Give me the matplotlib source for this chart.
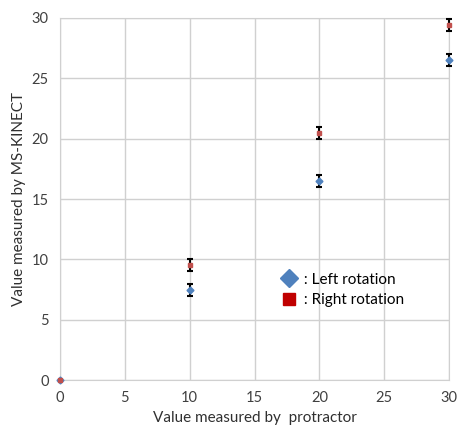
import matplotlib
matplotlib.use('Agg')
import matplotlib.pyplot as plt
from matplotlib.lines import Line2D

plt.rcParams['font.family'] = ['Lato', 'DejaVu Sans']

protractor = [0, 10, 20, 30]
left_rot = [0, 7.5, 16.5, 26.5]
left_err = [0, 0.5, 0.5, 0.5]
right_rot = [0, 9.5, 20.5, 29.4]
right_err = [0, 0.5, 0.5, 0.5]

fig = plt.figure(figsize=(4.57, 4.36), dpi=100)
ax = fig.add_axes([0.131, 0.128, 0.852, 0.831])

for ys, errs, mk, col in [(left_rot, left_err, 'D', '#4f81bd'),
                          (right_rot, right_err, 's', '#c0504d')]:
    # error bars only where there is an error
    xe = [x for x, e in zip(protractor, errs) if e > 0]
    ye = [y for y, e in zip(ys, errs) if e > 0]
    ee = [e for e in errs if e > 0]
    _, caps, bars = ax.errorbar(xe, ye, yerr=ee, fmt='none', ecolor='black',
                                elinewidth=1.5, capsize=2.3, capthick=1.5, zorder=3)
    for a in list(caps) + list(bars):
        a.set_clip_on(False)
    ax.plot(protractor, ys, mk, color=col, markersize=3.5, zorder=4, clip_on=False)

ax.set_xlim(0, 30)
ax.set_ylim(0, 30)
ax.set_xticks(range(0, 31, 5))
ax.set_yticks(range(0, 31, 5))
ax.grid(True, color='#d0d0d0', linewidth=1)
ax.set_axisbelow(True)
for s in ax.spines.values():
    s.set_color('#d0d0d0')
ax.tick_params(length=0, labelsize=10.5, colors='#404040', pad=8)
ax.set_xlabel('Value measured by  protractor', fontsize=11, color='#303030')
ax.set_ylabel('Value measured by MS-KINECT', fontsize=11, color='#303030')

handles = [Line2D([], [], marker='D', color='#4f81bd', linestyle='none', markersize=9),
           Line2D([], [], marker='s', color='#c00000', linestyle='none', markersize=9)]
ax.legend(handles, [' : Left rotation', ' : Right rotation'], loc='upper left',
          bbox_to_anchor=(0.53, 0.335), frameon=False, fontsize=11,
          handletextpad=0.1, handlelength=1.2, labelspacing=0.45)

fig.savefig('out.png', dpi=100)
